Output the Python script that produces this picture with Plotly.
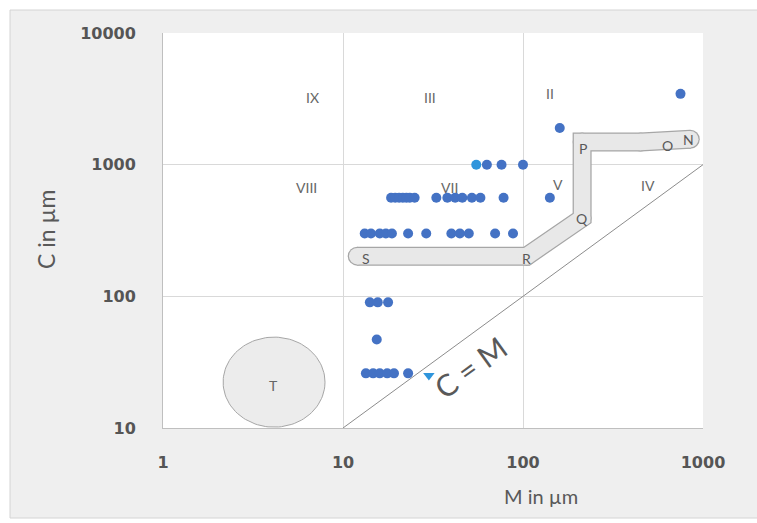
import numpy as np
import plotly.graph_objects as go

# Measured specimens: M (x) and C (y), both in µm
M_um = [750, 160,
        63, 76, 100,
        18.5, 19.5, 20.5, 21.5, 22.5, 23.5, 25, 33, 38, 42, 46, 52, 58, 78, 141,
        13.2, 14.3, 16.0, 17.3, 18.7, 23, 29, 40, 44.6, 50, 70, 88,
        14.1, 15.6, 17.8,
        15.4,
        13.4, 14.7, 16.0, 17.6, 19.2, 23]
C_um = [3450, 1900,
        1000, 1000, 1000,
        560, 560, 560, 560, 560, 560, 560, 560, 560, 560, 560, 560, 560, 560, 560,
        300, 300, 300, 300, 300, 300, 300, 300, 300, 300, 300, 300,
        90, 90, 90,
        47,
        26, 26, 26, 26, 26, 26]

# Second group (lighter markers)
M_alt = [55, 30]
C_alt = [1000, 25]
alt_symbols = ["circle", "triangle-down"]

# Centre line of the S-R-Q-P-O-N band
band_M = [12, 105, 213, 213, 450, 850]
band_C = [202, 202, 393, 1486, 1486, 1560]

# Region T (ellipse): centre and half-axes in decades
T_center = (4.14, 22.3)
T_half = (0.283, 0.342)

# Region and band labels with their positions (data values)
region_text = ["IX", "III", "II", "VIII", "VII", "V", "IV", "T"]
region_M = [6.8, 30.4, 141, 6.3, 39.3, 156, 495, 4.1]
region_C = [3260, 3260, 3500, 676, 676, 713, 689, 21.2]

band_text = ["S", "R", "Q", "P", "O", "N"]
band_lab_M = [13.4, 104, 213, 215, 631, 826]
band_lab_C = [195, 195, 387, 1337, 1409, 1563]

x_ticks = [1, 10, 100, 1000]
y_ticks = [10, 100, 1000, 10000]

GREY_TXT = "#595959"
BLUE = "#4472c4"
BLUE_LIGHT = "#2f95dc"
FONT = "Lato, 'Open Sans', sans-serif"
TICK_FONT = "'DejaVu Sans', sans-serif"

fig = go.Figure()

# C = M reference line
fig.add_trace(go.Scatter(x=[10, 1000], y=[10, 1000], mode="lines",
                         line=dict(color="#8c8c8c", width=1),
                         hoverinfo="skip", showlegend=False))

# Ellipse T
th = np.linspace(0, 2 * np.pi, 120)
ex = 10 ** (np.log10(T_center[0]) + T_half[0] * np.cos(th))
ey = 10 ** (np.log10(T_center[1]) + T_half[1] * np.sin(th))
fig.add_trace(go.Scatter(x=ex, y=ey, mode="lines", fill="toself",
                         fillcolor="#ececec", line=dict(color="#a6a6a6", width=1),
                         hoverinfo="skip", showlegend=False))

# Band: outline then fill
fig.add_trace(go.Scatter(x=band_M, y=band_C, mode="lines+markers",
                         line=dict(color="#a6a6a6", width=19),
                         marker=dict(size=19, color="#a6a6a6"),
                         hoverinfo="skip", showlegend=False))
fig.add_trace(go.Scatter(x=band_M, y=band_C, mode="lines+markers",
                         line=dict(color="#e8e8e8", width=16.5),
                         marker=dict(size=16.5, color="#e8e8e8"),
                         hoverinfo="skip", showlegend=False))

# Data points
fig.add_trace(go.Scatter(x=M_um, y=C_um, mode="markers",
                         marker=dict(size=10, color=BLUE),
                         showlegend=False))
fig.add_trace(go.Scatter(x=M_alt, y=C_alt, mode="markers",
                         marker=dict(size=10, color=BLUE_LIGHT, symbol=alt_symbols),
                         showlegend=False))

annotations = []
for t, mx, cy in zip(region_text, region_M, region_C):
    annotations.append(dict(x=np.log10(mx), y=np.log10(cy), xref="x", yref="y",
                            text=t, showarrow=False,
                            font=dict(family=FONT, size=14, color="#666666")))
for t, mx, cy in zip(band_text, band_lab_M, band_lab_C):
    annotations.append(dict(x=np.log10(mx), y=np.log10(cy), xref="x", yref="y",
                            text=t, showarrow=False,
                            font=dict(family=FONT, size=14, color=GREY_TXT)))
annotations.append(dict(x=np.log10(50.8), y=np.log10(29), xref="x", yref="y",
                        text="C = M", showarrow=False, textangle=-36,
                        font=dict(family=FONT, size=30, color=GREY_TXT)))


def px_x(p):
    return (p - 163) / 540


def px_y(p):
    return (428 - p) / 395


# Axis titles
annotations.append(dict(x=px_x(541), y=px_y(496), xref="paper", yref="paper",
                        xanchor="center", yanchor="middle",
                        text="M in µm", showarrow=False,
                        font=dict(family=FONT, size=20, color=GREY_TXT)))
annotations.append(dict(x=px_x(46), y=px_y(230), xref="paper", yref="paper",
                        xanchor="center", yanchor="middle",
                        text="C in µm", showarrow=False, textangle=-90,
                        font=dict(family=FONT, size=23, color=GREY_TXT)))

# Outer frame: white strips at the edges, thin border around the grey area
shapes = [
    dict(type="rect", xref="paper", yref="paper", layer="below",
         x0=px_x(0), x1=px_x(757), y0=px_y(0), y1=px_y(10),
         fillcolor="white", line=dict(width=0)),
    dict(type="rect", xref="paper", yref="paper", layer="below",
         x0=px_x(0), x1=px_x(10), y0=px_y(0), y1=px_y(523),
         fillcolor="white", line=dict(width=0)),
    dict(type="rect", xref="paper", yref="paper", layer="below",
         x0=px_x(0), x1=px_x(757), y0=px_y(518), y1=px_y(523),
         fillcolor="white", line=dict(width=0)),
    dict(type="rect", xref="paper", yref="paper", layer="below",
         x0=px_x(10), x1=px_x(760), y0=px_y(10), y1=px_y(518),
         fillcolor="rgba(0,0,0,0)", line=dict(color="#d4d4d4", width=1)),
]

axis_common = dict(
    type="log", showgrid=True, gridcolor="#d9d9d9", gridwidth=1,
    showline=True, linecolor="#bfbfbf", mirror=False, zeroline=False,
    ticks="outside", tickcolor="rgba(0,0,0,0)",
    tickfont=dict(family=TICK_FONT, size=16, color="#555555", weight="bold"),
)

fig.update_layout(
    width=757, height=523,
    margin=dict(l=163, r=54, t=33, b=95),
    paper_bgcolor="#efefef", plot_bgcolor="white",
    xaxis=dict(axis_common, range=[0, 3], tickvals=x_ticks,
               ticktext=[str(v) for v in x_ticks], ticklen=20),
    yaxis=dict(axis_common, range=[1, 4], tickvals=y_ticks,
               ticktext=[str(v) for v in y_ticks], ticklen=23),
    annotations=annotations, shapes=shapes,
    showlegend=False,
)

fig.write_html("out.html")
